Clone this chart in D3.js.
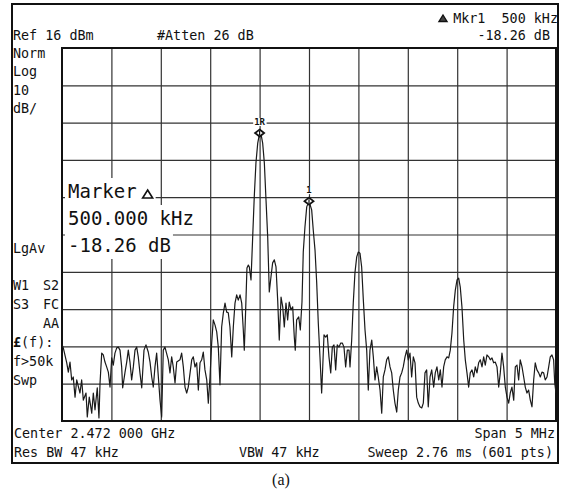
<!DOCTYPE html>
<html>
<head>
<meta charset="utf-8">
<script src="https://cdn.jsdelivr.net/npm/d3@7"></script>
<style>
  body { margin: 0; background: #fff; }
  text { font-family: "DejaVu Sans Mono", monospace; fill: #111; white-space: pre; }
</style>
</head>
<body>
<div id="spectrum"></div>
<script>
// grid / scale settings
var refLevel = 16, dbPerDiv = 10;
var gridFreqKHz = [-2000, -1500, -1000, -500, 0, 500, 1000, 1500, 2000];
var gridLevels = [6, -4, -14, -24, -34, -44, -54, -64, -74];

// header / annotation texts
var headerLeft = ["Ref 16 dBm", "#Atten 26 dB"];
var mkrReadout = ["Mkr1  500 kHz", "-18.26 dB"];
var sideTop = ["Norm", "Log", "10", "dB/"];
var sideMid = "LgAv";
var sideBottom = [["W1", "S2"], ["S3", "FC"], ["", "AA"], ["£(f):", ""], ["f>50k", ""], ["Swp", ""]];
var markerBox = ["Marker", "500.000 kHz", "-18.26 dB"];
var footerRow1 = ["Center 2.472 000 GHz", "Span 5 MHz"];
var footerRow2 = ["Res BW 47 kHz", "VBW 47 kHz", "Sweep 2.76 ms (601 pts)"];
var caption = "(a)";

var markers = [{ label: "1R", freq: -500 }, { label: "1", freq: 0 }];

// trace: [offset from center in kHz, level in dBm]
var trace = [
  [-2500, -63.5], [-2487, -64.4], [-2452, -68.4], [-2436, -70.9], [-2419, -68.2], [-2402, -73.0],
  [-2386, -72.2], [-2368, -77.6], [-2351, -73.0], [-2318, -76.5], [-2301, -73.0], [-2284, -78.4],
  [-2257, -76.5], [-2244, -82.9], [-2224, -77.6], [-2199, -81.9], [-2183, -76.5], [-2166, -81.0],
  [-2143, -75.1], [-2126, -83.2], [-2115, -73.8], [-2098, -65.8], [-2082, -66.3], [-2065, -68.2],
  [-2048, -69.5], [-2031, -70.9], [-2014, -74.9], [-1997, -67.1], [-1981, -69.0], [-1964, -65.8],
  [-1946, -64.4], [-1930, -64.2], [-1913, -65.0], [-1896, -69.5], [-1886, -75.1], [-1862, -70.9],
  [-1845, -68.2], [-1829, -65.0], [-1812, -68.2], [-1795, -73.0], [-1778, -69.5], [-1761, -65.0],
  [-1744, -64.2], [-1728, -66.8], [-1711, -71.1], [-1693, -75.1], [-1670, -65.0], [-1650, -63.6],
  [-1627, -65.5], [-1609, -68.2], [-1592, -72.2], [-1576, -74.9], [-1559, -69.5], [-1542, -65.8],
  [-1508, -78.4], [-1491, -82.9], [-1475, -65.0], [-1458, -64.2], [-1424, -67.6], [-1407, -71.1],
  [-1390, -66.8], [-1374, -69.5], [-1356, -73.8], [-1339, -68.2], [-1306, -67.6], [-1289, -65.8],
  [-1272, -69.5], [-1255, -74.9], [-1238, -76.5], [-1222, -74.9], [-1187, -67.6], [-1171, -66.8],
  [-1154, -69.5], [-1137, -68.4], [-1120, -75.7], [-1103, -68.4], [-1086, -67.6], [-1070, -65.5],
  [-1053, -70.3], [-1035, -73.0], [-1019, -79.2], [-1002, -72.2], [-985, -63.1], [-969, -56.9],
  [-951, -58.3], [-934, -60.1], [-918, -64.2], [-901, -74.3], [-884, -58.8], [-867, -55.0],
  [-850, -52.4], [-833, -54.8], [-817, -55.0], [-800, -58.8], [-782, -66.8], [-766, -58.8],
  [-749, -52.4], [-732, -50.2], [-716, -51.6], [-698, -50.2], [-681, -52.4], [-665, -59.6],
  [-655, -65.0], [-641, -54.2], [-628, -43.0], [-614, -42.2], [-604, -42.7], [-587, -46.2],
  [-570, -34.7], [-554, -23.9], [-537, -14.8], [-519, -9.5], [-500, -6.8], [-483, -7.5],
  [-469, -9.5], [-452, -14.8], [-435, -24.8], [-418, -34.7], [-402, -49.4], [-385, -45.4],
  [-368, -41.6], [-351, -40.8], [-334, -42.7], [-317, -51.6], [-301, -62.3], [-283, -50.8],
  [-266, -53.4], [-250, -58.8], [-233, -52.4], [-216, -56.9], [-200, -52.1], [-182, -54.2],
  [-165, -53.4], [-149, -61.5], [-139, -65.0], [-125, -56.9], [-104, -56.1], [-88, -59.6],
  [-71, -52.1], [-58, -38.7], [-41, -32.0], [-23, -26.6], [0, -25.06], [27, -27.4],
  [43, -32.8], [61, -38.2], [78, -47.0], [94, -57.7], [111, -66.8], [128, -76.5],
  [139, -69.5], [152, -60.9], [169, -61.5], [185, -60.9], [202, -66.8], [220, -71.1],
  [236, -64.2], [253, -63.6], [270, -70.3], [286, -63.6], [304, -64.2], [321, -63.1],
  [337, -63.1], [354, -64.2], [371, -69.5], [388, -65.0], [405, -65.0], [415, -69.5],
  [432, -62.3], [448, -52.4], [465, -44.3], [483, -40.0], [499, -38.7], [516, -39.0],
  [533, -42.7], [550, -51.6], [567, -59.6], [584, -65.0], [600, -75.7], [617, -65.0],
  [635, -62.3], [651, -66.8], [668, -73.0], [685, -69.5], [701, -72.2], [719, -75.7],
  [736, -81.9], [752, -72.2], [769, -70.3], [786, -67.6], [803, -66.8], [820, -69.5],
  [837, -71.1], [853, -75.7], [870, -79.2], [888, -81.6], [904, -75.7], [921, -72.2],
  [938, -71.1], [954, -69.5], [972, -66.8], [989, -65.0], [1005, -67.6], [1022, -65.8],
  [1039, -72.2], [1056, -66.8], [1073, -68.4], [1090, -77.6], [1106, -79.2], [1123, -80.2],
  [1141, -80.5], [1157, -79.2], [1174, -71.1], [1191, -70.3], [1207, -80.2], [1225, -72.2],
  [1242, -70.3], [1262, -74.9], [1278, -71.1], [1295, -69.5], [1313, -73.0], [1329, -70.3],
  [1346, -74.9], [1363, -69.5], [1379, -67.6], [1397, -66.8], [1414, -67.1], [1430, -65.0],
  [1447, -60.4], [1464, -53.4], [1481, -48.9], [1498, -46.2], [1515, -45.7], [1531, -48.1],
  [1548, -53.4], [1566, -62.3], [1582, -67.6], [1599, -71.1], [1616, -74.9], [1632, -71.1],
  [1650, -70.3], [1667, -72.2], [1683, -69.5], [1700, -71.1], [1717, -68.4], [1734, -67.6],
  [1751, -69.5], [1768, -66.8], [1784, -69.0], [1801, -66.3], [1819, -66.8], [1835, -67.6],
  [1852, -67.1], [1869, -68.4], [1885, -68.2], [1903, -69.5], [1920, -74.9], [1936, -71.1],
  [1953, -65.8], [1970, -69.5], [1987, -74.9], [2004, -77.6], [2021, -79.2], [2037, -76.5],
  [2054, -74.9], [2072, -78.4], [2088, -69.5], [2105, -69.0], [2122, -73.0], [2138, -67.6],
  [2156, -69.5], [2173, -72.2], [2189, -74.9], [2206, -76.5], [2223, -75.7], [2240, -78.4],
  [2257, -80.2], [2274, -73.0], [2290, -68.4], [2307, -70.3], [2325, -71.1], [2341, -72.2],
  [2358, -70.9], [2375, -71.1], [2391, -73.0], [2409, -72.2], [2426, -69.5], [2442, -66.8],
  [2459, -66.3], [2476, -67.6], [2487, -73.8], [2500, -76.5]
];

var W = 562, H = 492;
var margin = { top: 48, right: 6, bottom: 71, left: 62 },
    width = W - margin.left - margin.right,
    height = H - margin.top - margin.bottom;

var root = d3.select("#spectrum")
    .append("svg")
    .attr("width", W)
    .attr("height", H);

// outer instrument frame
root.append("rect")
    .attr("x", 12).attr("y", 4)
    .attr("width", 546).attr("height", 459)
    .attr("fill", "none")
    .attr("stroke", "#111")
    .attr("stroke-width", 2);

var svg = root.append("g")
    .attr("transform", "translate(" + margin.left + "," + margin.top + ")");

var x = d3.scaleLinear()
    .domain([-2500, 2500])
    .range([0, width]);

var y = d3.scaleLinear()
    .domain([refLevel - 10 * dbPerDiv, refLevel])
    .range([height, 0]);

// graticule from axes
var vGrid = svg.append("g")
    .attr("transform", "translate(0," + height + ")")
    .call(d3.axisBottom(x).tickValues(gridFreqKHz).tickSize(-height).tickFormat(""));
var hGrid = svg.append("g")
    .call(d3.axisLeft(y).tickValues(gridLevels).tickSize(-width).tickFormat(""));
[vGrid, hGrid].forEach(function (g) {
    g.select(".domain").remove();
    g.selectAll(".tick text").remove();
    g.selectAll(".tick line").attr("stroke", "#333").attr("stroke-width", 1.2);
});

svg.append("rect")
    .attr("width", width).attr("height", height)
    .attr("fill", "none")
    .attr("stroke", "#111")
    .attr("stroke-width", 2);

svg.append("clipPath").attr("id", "plotClip")
    .append("rect").attr("width", width).attr("height", height);

var line = d3.line()
    .x(function (d) { return x(d[0]); })
    .y(function (d) { return y(d[1]); });

svg.append("path")
    .datum(trace)
    .attr("clip-path", "url(#plotClip)")
    .attr("fill", "none")
    .attr("stroke", "#1a1a1a")
    .attr("stroke-width", 1.2)
    .attr("stroke-linejoin", "round")
    .attr("d", line);

// markers on the two peaks
var mkBg = svg.append("g"), mkFg = svg.append("g");
markers.forEach(function (m) {
    var pt = trace.filter(function (d) { return d[0] === m.freq; })[0];
    var cx = x(pt[0]), cy = y(pt[1]);
    var lbl = mkFg.append("text")
        .attr("x", cx).attr("y", cy - 8)
        .attr("text-anchor", "middle")
        .style("font-size", "9px")
        .style("font-weight", "bold")
        .text(m.label);
    var bb = lbl.node().getBBox();
    mkBg.append("rect")
        .attr("x", bb.x - 1).attr("y", bb.y + 1)
        .attr("width", bb.width + 2).attr("height", bb.height - 2)
        .attr("fill", "#fff");
    mkFg.append("path")
        .attr("d", "M" + cx + "," + (cy - 3.5) + " L" + (cx + 4.5) + "," + cy + " L" + cx + "," + (cy + 3.5) + " L" + (cx - 4.5) + "," + cy + " Z")
        .attr("fill", "#fff")
        .attr("stroke", "#111")
        .attr("stroke-width", 1.8);
    mkFg.append("line")
        .attr("x1", cx).attr("x2", cx)
        .attr("y1", cy - 2).attr("y2", cy + 2)
        .attr("stroke", "#111").attr("stroke-width", 1.2);
});

// big marker readout with white boxes behind each line
var boxLayer = root.append("g");
var boxText = root.append("g");
markerBox.forEach(function (t, i) {
    var by = 198 + i * 27;
    var tx = boxText.append("text")
        .attr("x", 68).attr("y", by)
        .style("font-size", "19px")
        .text(t);
    var bb = tx.node().getBBox();
    var right = bb.x + bb.width;
    if (i === 0) {
        // small delta triangle after "Marker"
        var tx0 = right + 11;
        boxText.append("path")
            .attr("d", "M" + tx0 + "," + (by - 8) + " L" + (tx0 + 5) + "," + by + " L" + (tx0 - 5) + "," + by + " Z")
            .attr("fill", "none")
            .attr("stroke", "#111")
            .attr("stroke-width", 1.6);
        right = tx0 + 6;
    }
    boxLayer.append("rect")
        .attr("x", 65).attr("y", by - 20)
        .attr("width", right - 65 + 2).attr("height", 27)
        .attr("fill", "#fff");
});

// small screen annotations
function small(txt, px, py, anchor) {
    return root.append("text")
        .attr("x", px).attr("y", py)
        .attr("text-anchor", anchor || "start")
        .style("font-size", "13.4px")
        .text(txt);
}

small(headerLeft[0], 13, 40);
small(headerLeft[1], 157, 40);
small(mkrReadout[0], 558, 23, "end");
small(mkrReadout[1], 550, 40, "end");
root.append("path")
    .attr("d", "M443,15 L447,21.5 L439,21.5 Z")
    .attr("fill", "#444")
    .attr("stroke", "#111")
    .attr("stroke-width", 1.4);

sideTop.forEach(function (t, i) { small(t, 13, 58 + i * 18.3); });
small(sideMid, 13, 253);
sideBottom.forEach(function (row, i) {
    var by = 290 + i * 19;
    if (row[0].indexOf("£") === 0) {
        var t = small("", 13, by);
        t.append("tspan").style("font-weight", "bold").text("£");
        t.append("tspan").text(row[0].slice(1));
    } else if (row[0]) {
        small(row[0], 13, by);
    }
    if (row[1]) small(row[1], 59, by, "end");
});

small(footerRow1[0], 14, 438);
small(footerRow1[1], 555, 438, "end");
small(footerRow2[0], 14, 457);
small(footerRow2[1], 239, 457);
small(footerRow2[2], 553, 457, "end");

root.append("text")
    .attr("x", 281).attr("y", 485)
    .attr("text-anchor", "middle")
    .style("font-family", "'Liberation Serif', 'Times New Roman', serif")
    .style("font-size", "16px")
    .text(caption);
</script>
</body>
</html>
